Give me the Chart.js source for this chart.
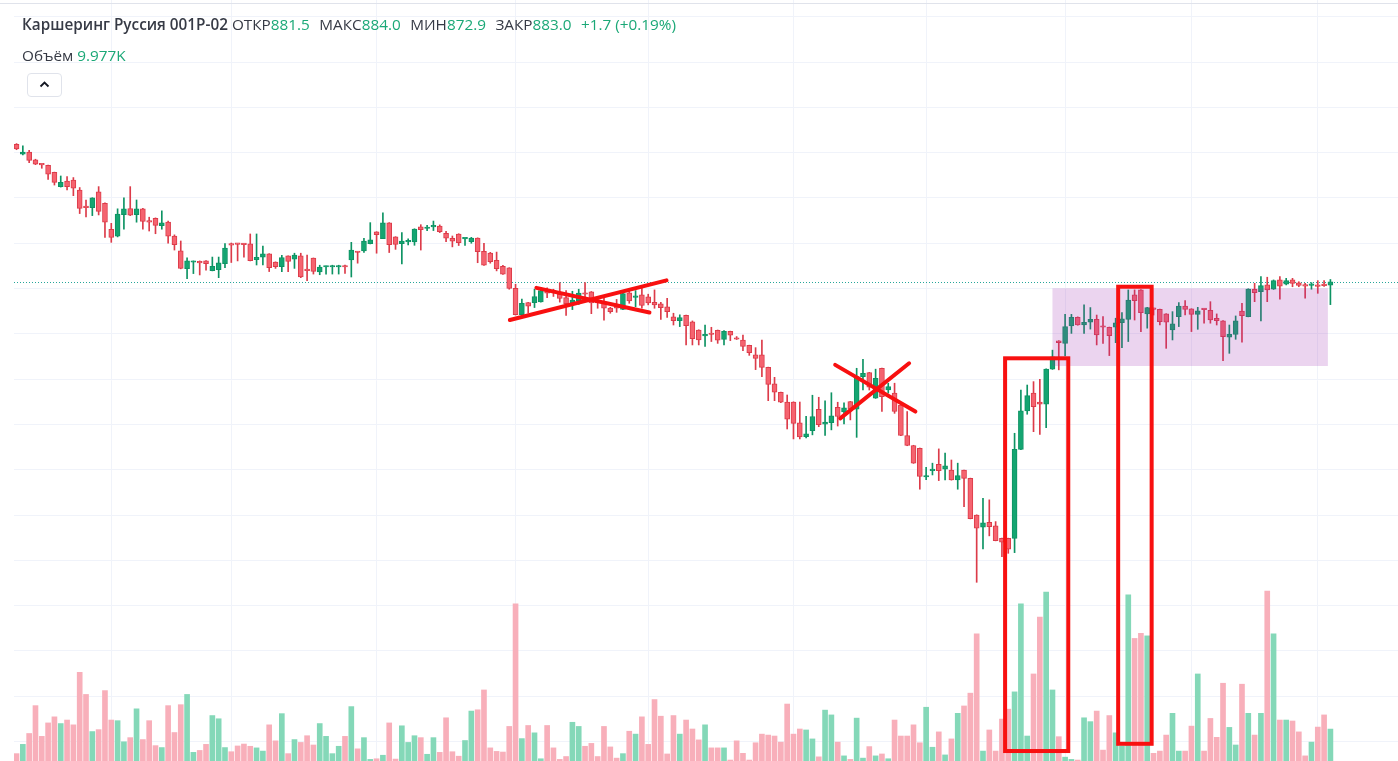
<!DOCTYPE html>
<html lang="ru">
<head>
<meta charset="utf-8">
<title>Каршеринг Руссия 001P-02</title>
<script src="https://cdn.jsdelivr.net/npm/chart.js@4.4.1/dist/chart.umd.min.js"></script>
<style>
    html, body { margin: 0; padding: 0; background: #fff; overflow: hidden; }
    #wrap { position: relative; width: 1398px; height: 761px; }
    #chart { position: absolute; left: 0; top: 0; }
    .topline { position: absolute; left: 0; top: 3px; width: 1398px; height: 1px; background: #e0e3eb; }
    .legend { position: absolute; left: 22px; font-family: "Open Sans", "Noto Sans", sans-serif; font-size: 15.3px; line-height: 20px; color: #363a45; white-space: nowrap; }
    .row1 { top: 14px; }
    .row2 { top: 45px; }
    .title { font-weight: 600; }
    .lbl { margin-left: 9.5px; }
    .lbl.first { margin-left: 4px; }
    .val { color: #1ba877; }
    .chg { color: #1ba877; margin-left: 9.5px; }
    .btn { position: absolute; left: 27px; top: 73px; width: 33px; height: 22px; border: 1px solid #e0e3eb; border-radius: 4px; background: #fff; }
    .btn svg { position: absolute; left: 11px; top: 7px; }
</style>
</head>
<body>
<div id="wrap">
    <canvas id="chart" width="1398" height="761"></canvas>
    <div class="topline"></div>
    <div class="legend row1">
        <span class="title">Каршеринг Руссия 001P-02</span><span class="lbl first">ОТКР</span><span class="val">881.5</span><span class="lbl">МАКС</span><span class="val">884.0</span><span class="lbl">МИН</span><span class="val">872.9</span><span class="lbl">ЗАКР</span><span class="val">883.0</span><span class="chg">+1.7 (+0.19%)</span>
    </div>
    <div class="legend row2"><span>Объём</span> <span class="val">9.977K</span></div>
    <div class="btn"><svg width="11" height="7" viewBox="0 0 11 7"><polyline points="1.5,5.5 5.5,1.5 9.5,5.5" fill="none" stroke="#131722" stroke-width="1.8"/></svg></div>
</div>
<script>
// свечи (по порядку, слева направо)
const opens = [
    943.7, 939.3, 940.3, 936.8, 934.9, 934.4, 931.3, 925.0, 927.5, 927.9,
    923.5, 916.0, 915.7, 922.7, 917.6, 906.2, 903.1, 912.6, 915.3, 912.6,
    915.2, 909.9, 911.0, 907.8, 909.3, 903.2, 896.6, 888.8, 891.6, 891.7,
    892.2, 887.9, 888.3, 891.0, 899.7, 899.8, 899.8, 899.7, 892.8, 893.8,
    895.3, 891.7, 889.7, 894.4, 893.0, 894.4, 888.4, 893.4, 887.3, 889.5,
    889.5, 889.5, 889.8, 892.6, 896.2, 896.6, 899.8, 905.0, 902.0, 909.0,
    902.8, 899.8, 900.6, 900.6, 907.3, 906.5, 907.2, 907.6, 904.4, 902.2,
    904.1, 901.9, 900.7, 902.3, 896.4, 895.7, 892.5, 889.8, 889.1, 880.1,
    868.5, 873.8, 873.8, 874.1, 879.1, 879.1, 877.5, 876.0, 873.7, 874.5,
    878.0, 878.6, 874.9, 873.7, 871.4, 872.5, 870.8, 878.1, 876.1, 877.2,
    876.3, 873.9, 873.2, 871.9, 867.5, 865.8, 868.2, 865.3, 861.7, 859.1,
    860.0, 861.6, 857.5, 861.1, 858.0, 857.3, 854.9, 850.7, 850.7, 845.2,
    837.9, 834.2, 829.9, 829.9, 820.7, 814.6, 817.3, 826.7, 820.1, 820.8,
    827.6, 825.5, 830.1, 826.7, 841.1, 842.9, 831.6, 844.8, 835.2, 833.8,
    828.6, 815.1, 810.7, 809.5, 796.8, 799.6, 802.4, 800.2, 799.9, 795.5,
    799.8, 796.2, 780.0, 774.6, 776.8, 775.2, 769.7, 769.7, 769.7, 809.0,
    826.0, 833.9, 829.9, 828.9, 844.4, 856.9, 855.8, 863.5, 867.3, 863.9,
    865.1, 866.4, 863.2, 862.9, 862.9, 864.9, 866.4, 877.2, 879.4, 868.8,
    871.3, 870.8, 868.8, 861.7, 867.6, 872.3, 871.0, 868.6, 871.0, 870.4,
    866.9, 865.8, 858.5, 859.8, 870.1, 867.6, 879.7, 878.6, 881.6, 879.7,
    883.8, 881.9, 883.8, 882.5, 881.6, 881.4, 881.6, 881.6, 881.5
];
const highs = [
    944.0, 943.0, 941.0, 937.1, 935.0, 934.5, 931.4, 929.7, 929.4, 929.0,
    924.6, 919.1, 920.1, 925.0, 917.8, 908.8, 915.2, 920.0, 925.0, 919.1,
    915.4, 911.5, 911.2, 914.3, 909.8, 903.7, 901.0, 893.6, 892.2, 892.2,
    892.3, 893.9, 893.9, 899.8, 900.1, 899.9, 899.9, 904.1, 904.1, 898.7,
    895.4, 891.8, 894.7, 894.5, 895.6, 895.6, 894.8, 893.5, 890.3, 889.9,
    890.3, 890.3, 890.4, 900.4, 896.3, 902.2, 909.1, 905.1, 913.4, 909.1,
    902.9, 904.7, 902.0, 906.4, 908.2, 907.9, 909.8, 908.1, 905.3, 903.2,
    904.2, 902.4, 902.6, 902.4, 900.0, 896.0, 896.1, 890.3, 889.2, 881.9,
    875.3, 873.9, 879.7, 880.1, 880.3, 879.7, 882.6, 879.1, 878.8, 879.7,
    882.6, 878.7, 876.0, 876.0, 871.7, 875.2, 877.9, 879.1, 879.1, 880.1,
    877.5, 879.4, 873.9, 875.7, 869.1, 868.4, 868.3, 865.7, 861.8, 863.9,
    862.9, 861.7, 861.4, 861.2, 858.8, 859.5, 855.0, 853.9, 857.3, 845.3,
    840.8, 834.3, 833.0, 830.0, 829.9, 823.6, 832.9, 832.0, 830.4, 834.0,
    829.8, 829.5, 830.2, 844.8, 848.8, 843.0, 844.4, 844.9, 838.2, 838.2,
    828.7, 825.7, 810.8, 809.6, 801.1, 802.9, 809.2, 807.3, 804.3, 802.9,
    799.9, 796.3, 780.1, 787.4, 786.7, 777.1, 769.8, 769.8, 816.1, 835.2,
    837.4, 838.9, 839.9, 844.5, 852.8, 857.0, 868.6, 868.6, 867.5, 872.8,
    871.6, 868.3, 867.6, 863.0, 866.9, 869.4, 879.4, 879.4, 879.5, 871.7,
    871.4, 870.9, 868.9, 869.8, 873.8, 874.7, 871.1, 871.7, 871.1, 874.2,
    868.8, 865.9, 863.9, 867.9, 873.5, 879.9, 882.3, 885.3, 885.0, 883.8,
    885.3, 884.5, 884.5, 883.0, 882.3, 882.6, 883.5, 883.5, 884.0
];
const lows = [
    941.3, 939.0, 935.6, 934.7, 933.1, 928.2, 925.7, 924.8, 923.5, 921.0,
    913.1, 911.6, 912.2, 912.5, 902.6, 900.4, 902.8, 906.2, 912.2, 909.3,
    906.2, 905.4, 904.2, 906.2, 900.0, 897.0, 888.7, 884.4, 886.6, 886.0,
    888.1, 887.8, 884.8, 889.2, 891.5, 892.2, 893.8, 892.2, 890.4, 890.4,
    887.5, 888.9, 887.5, 887.5, 888.9, 884.8, 883.5, 886.4, 886.1, 886.4,
    886.4, 886.4, 886.7, 885.1, 891.2, 895.9, 899.7, 895.6, 902.0, 895.9,
    897.3, 890.9, 899.3, 899.1, 897.0, 905.6, 905.6, 904.7, 900.7, 898.4,
    899.0, 899.0, 900.0, 891.4, 890.2, 891.2, 887.8, 886.2, 879.7, 868.3,
    868.3, 869.2, 871.6, 874.0, 876.0, 876.5, 874.0, 868.1, 870.7, 873.0,
    876.0, 868.9, 871.3, 866.0, 869.1, 869.5, 870.7, 873.5, 872.0, 871.3,
    872.8, 871.3, 866.4, 867.2, 863.9, 863.2, 855.1, 855.1, 855.1, 854.4,
    856.6, 855.8, 855.1, 857.0, 857.5, 852.6, 850.5, 844.2, 841.1, 830.5,
    830.5, 829.6, 818.0, 813.6, 813.6, 814.0, 815.4, 819.0, 815.1, 817.6,
    819.3, 820.2, 822.0, 814.3, 835.2, 835.2, 831.5, 825.7, 833.8, 824.9,
    815.0, 810.6, 802.8, 791.4, 795.6, 797.7, 795.2, 795.5, 795.4, 791.4,
    783.7, 778.3, 750.3, 765.0, 770.8, 768.6, 761.6, 763.1, 763.4, 808.9,
    824.5, 816.8, 815.6, 818.6, 844.3, 844.1, 850.2, 860.2, 863.8, 860.2,
    862.1, 855.1, 855.8, 850.4, 856.1, 853.9, 856.6, 866.1, 861.0, 862.5,
    868.3, 863.9, 853.6, 857.3, 863.2, 868.3, 861.0, 862.0, 864.7, 864.7,
    863.9, 848.2, 851.4, 857.6, 856.3, 867.5, 874.2, 865.7, 874.2, 879.6,
    875.3, 881.6, 880.8, 880.8, 875.7, 879.7, 877.9, 880.9, 872.9
];
const closes = [
    941.6, 940.3, 936.6, 934.9, 934.6, 930.5, 926.9, 926.9, 925.0, 924.3,
    915.4, 915.7, 920.0, 914.1, 909.3, 902.6, 912.9, 915.2, 912.4, 915.2,
    909.6, 909.3, 907.9, 909.0, 903.1, 899.4, 888.9, 892.2, 891.9, 891.3,
    891.0, 889.8, 891.3, 897.9, 899.2, 899.5, 899.4, 892.3, 893.8, 895.3,
    889.2, 889.7, 893.7, 892.0, 894.8, 885.1, 887.9, 887.6, 889.5, 889.8,
    889.8, 889.8, 889.5, 897.0, 895.9, 901.0, 901.5, 903.8, 909.0, 899.4,
    899.5, 901.0, 901.0, 906.3, 906.0, 906.9, 907.6, 905.1, 902.2, 900.9,
    900.3, 902.3, 902.3, 896.3, 890.3, 891.9, 888.8, 886.4, 880.1, 868.5,
    873.5, 872.2, 876.4, 879.1, 878.0, 878.6, 875.6, 873.3, 874.9, 878.0,
    877.5, 873.7, 873.7, 871.3, 869.8, 871.3, 877.8, 874.5, 876.6, 872.5,
    873.6, 872.8, 871.6, 869.8, 865.8, 867.2, 863.6, 857.9, 857.3, 859.8,
    859.7, 857.2, 861.1, 859.4, 857.6, 854.4, 851.7, 849.2, 845.2, 837.7,
    834.2, 829.8, 822.3, 820.5, 814.5, 815.8, 823.5, 819.9, 821.0, 823.8,
    823.5, 827.3, 826.7, 841.1, 842.6, 836.4, 840.4, 832.3, 836.7, 825.7,
    815.1, 810.7, 802.9, 797.0, 797.3, 800.2, 799.6, 801.7, 795.5, 797.4,
    796.2, 778.4, 774.2, 776.6, 774.9, 768.7, 768.0, 764.9, 809.0, 826.0,
    832.7, 827.9, 829.0, 844.4, 849.9, 856.1, 863.2, 867.3, 863.9, 865.1,
    866.4, 859.5, 862.9, 859.2, 864.9, 866.6, 874.9, 874.7, 869.4, 871.6,
    870.8, 865.4, 865.1, 864.4, 872.3, 870.8, 868.6, 870.2, 870.7, 866.1,
    865.8, 858.8, 859.8, 865.7, 868.0, 879.8, 878.2, 881.3, 879.4, 883.5,
    881.1, 883.5, 882.3, 881.4, 881.1, 881.7, 880.9, 881.3, 883.0
];
// объём, тыс.
const volumes = [
    2.3, 5.2, 8.6, 17.3, 7.7, 11.9, 13.8, 11.7, 12.8, 11.3,
    27.7, 20.8, 9.2, 9.8, 22.0, 12.8, 12.6, 6.0, 7.3, 16.3,
    6.7, 12.6, 4.8, 4.2, 17.3, 8.9, 17.6, 20.8, 2.7, 3.3,
    5.2, 14.2, 13.2, 4.2, 2.9, 4.7, 5.3, 4.6, 4.1, 3.1,
    11.3, 6.3, 14.8, 2.3, 6.7, 5.8, 7.9, 5.0, 11.7, 7.7,
    2.3, 4.6, 7.7, 17.0, 3.8, 7.3, 0.5, 0.7, 1.8, 11.9,
    0.6, 11.0, 5.8, 7.9, 7.3, 2.1, 7.3, 2.7, 13.5, 2.9,
    1.5, 6.4, 15.6, 16.0, 22.2, 4.1, 3.0, 2.8, 10.8, 49.1,
    7.0, 11.1, 8.8, 0.7, 11.1, 4.1, 0.5, 1.4, 12.1, 10.8,
    4.6, 5.5, 1.4, 10.8, 4.4, 0.9, 2.3, 9.3, 8.4, 13.8,
    5.2, 19.2, 14.0, 2.2, 14.2, 8.4, 12.8, 10.0, 6.6, 11.3,
    4.1, 4.1, 4.1, 0.3, 6.3, 2.4, 0.3, 5.7, 8.4, 8.1,
    7.8, 5.9, 17.8, 8.4, 10.0, 9.7, 6.9, 1.3, 15.9, 14.4,
    5.9, 1.6, 0.5, 13.4, 0.9, 4.5, 1.6, 2.2, 0.7, 12.8,
    7.8, 7.8, 11.3, 5.7, 16.8, 4.3, 9.1, 1.9, 6.9, 14.9,
    17.2, 21.2, 39.7, 3.1, 9.7, 3.1, 13.1, 16.2, 21.6, 49.1,
    7.8, 27.2, 45.0, 52.8, 22.2, 7.6, 1.2, 0.5, 0.3, 13.5,
    12.3, 15.6, 3.4, 14.2, 8.8, 4.7, 51.9, 38.3, 39.9, 39.1,
    2.4, 3.1, 8.1, 14.9, 3.1, 3.1, 10.9, 27.2, 3.1, 13.3,
    7.4, 24.3, 10.5, 5.0, 24.0, 14.9, 8.1, 14.9, 53.1, 39.7,
    12.8, 12.8, 12.5, 9.1, 1.6, 5.9, 10.6, 14.4, 9.977
];

// сетка
const priceTicks = [680, 700, 720, 740, 760, 780, 800, 820, 840, 860, 880, 900, 920, 940, 960, 980, 1000];
const timeGridIdx = [15, 34, 57, 79, 100, 123, 144, 166, 186, 206];

// разметка поверх графика: [индекс свечи, цена]
const crossLines = [
    [[78.1, 866.1], [102.9, 883.6]],
    [[82.3, 880.3], [100.2, 869.4]],
    [[129.6, 846.3], [142.3, 825.7]],
    [[130.4, 822.7], [141.3, 847.0]]
];
const zone = { from: 164.0, to: 207.6, top: 880.1, bottom: 845.8 };
const frames = [
    { from: 156.5, to: 166.5, top: 849.2, bottom: 675.8 },
    { from: 174.4, to: 179.7, top: 880.8, bottom: 679.0 }
];

const UP = '#14a571';
const UP_EDGE = '#0d9363';
const DOWN = '#f5636f';
const DOWN_EDGE = '#dc3b49';
const UP_VOL = '#84d8b8';
const DOWN_VOL = '#f8afba';

const isUp = i => closes[i] >= opens[i];
const idx = closes.map((_, i) => i);

const drawings = {
    id: 'drawings',
    beforeDatasetsDraw(chart) {
        const { ctx, chartArea, scales } = chart;
        const py = Math.round(scales.y.getPixelForValue(closes[closes.length - 1])) + 0.5;
        ctx.save();
        ctx.strokeStyle = '#26a69a';
        ctx.lineWidth = 1;
        ctx.setLineDash([1, 2]);
        ctx.beginPath();
        ctx.moveTo(chartArea.left, py);
        ctx.lineTo(chartArea.right, py);
        ctx.stroke();
        ctx.restore();
    },
    afterDatasetsDraw(chart) {
        const { ctx } = chart;
        const x = chart.scales.x, y = chart.scales.y;
        ctx.save();
        // зона
        const zx = x.getPixelForValue(zone.from), zy = y.getPixelForValue(zone.top);
        ctx.fillStyle = 'rgba(156, 39, 176, 0.2)';
        ctx.fillRect(zx, zy, x.getPixelForValue(zone.to) - zx, y.getPixelForValue(zone.bottom) - zy);
        // рамки
        ctx.strokeStyle = '#f81010';
        ctx.lineWidth = 4;
        frames.forEach(f => {
            const fx = x.getPixelForValue(f.from), fy = y.getPixelForValue(f.top);
            ctx.strokeRect(fx, fy, x.getPixelForValue(f.to) - fx, y.getPixelForValue(f.bottom) - fy);
        });
        // крестики
        ctx.lineCap = 'round';
        crossLines.forEach(([a, b]) => {
            ctx.beginPath();
            ctx.moveTo(x.getPixelForValue(a[0]), y.getPixelForValue(a[1]));
            ctx.lineTo(x.getPixelForValue(b[0]), y.getPixelForValue(b[1]));
            ctx.stroke();
        });
        ctx.restore();
    }
};

new Chart(document.getElementById('chart'), {
    type: 'bar',
    data: {
        datasets: [
            {
                // тела свечей
                data: idx.map(i => ({ x: i, y: [opens[i], closes[i]] })),
                backgroundColor: c => isUp(c.dataIndex) ? UP : DOWN,
                borderColor: c => isUp(c.dataIndex) ? UP_EDGE : DOWN_EDGE,
                borderWidth: 1,
                borderSkipped: false,
                barThickness: 5,
                minBarLength: 1.5,
                grouped: false,
                order: 0
            },
            {
                // тени
                data: idx.map(i => ({ x: i, y: [lows[i], highs[i]] })),
                backgroundColor: c => isUp(c.dataIndex) ? UP_EDGE : DOWN_EDGE,
                barThickness: 1,
                grouped: false,
                order: 1
            },
            {
                // объём
                data: idx.map(i => ({ x: i, y: volumes[i] })),
                yAxisID: 'yv',
                backgroundColor: c => isUp(c.dataIndex) ? UP_VOL : DOWN_VOL,
                barThickness: 5,
                grouped: false,
                order: 2
            }
        ]
    },
    options: {
        responsive: false,
        animation: false,
        layout: { padding: { left: 14, right: 0, top: 0, bottom: 0 } },
        plugins: { legend: { display: false }, tooltip: { enabled: false } },
        scales: {
            x: {
                type: 'linear',
                min: -0.4,
                max: 218.7,
                offset: false,
                afterBuildTicks: s => { s.ticks = timeGridIdx.map(v => ({ value: v })); },
                afterFit: s => { s.height = 0; },
                ticks: { display: false },
                border: { display: false },
                grid: { color: '#f0f3fa', drawTicks: false, offset: false }
            },
            y: {
                position: 'right',
                min: 671.4,
                max: 1007.4,
                afterBuildTicks: s => { s.ticks = priceTicks.map(v => ({ value: v })); },
                afterFit: s => { s.width = 0; },
                ticks: { display: false },
                border: { display: false },
                grid: { color: '#f0f3fa', drawTicks: false }
            },
            yv: {
                display: false,
                min: 0,
                max: 237.8
            }
        }
    },
    plugins: [drawings]
});
</script>
</body>
</html>
